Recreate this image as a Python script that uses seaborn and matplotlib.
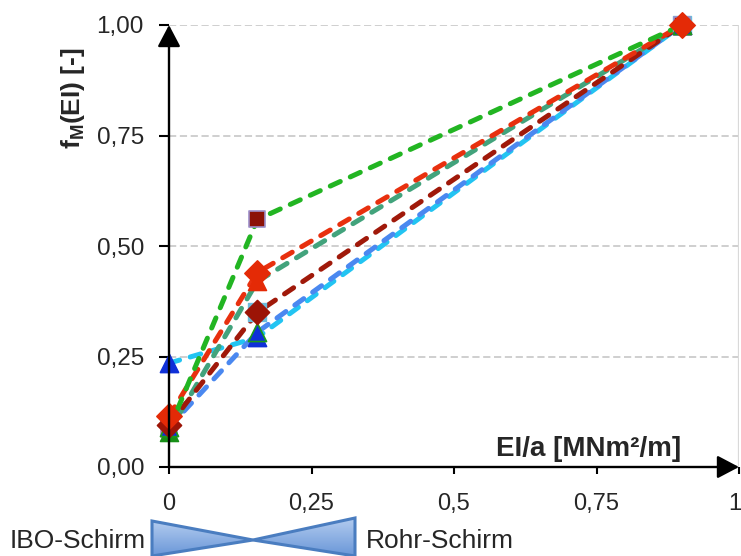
import matplotlib
matplotlib.use("Agg")
import numpy as np
import pandas as pd
import matplotlib.pyplot as plt
import seaborn as sns
from matplotlib.patches import Polygon
from matplotlib.colors import LinearSegmentedColormap
from matplotlib.transforms import ScaledTranslation

# Stiffness EI/a [MNm²/m] of the three support configurations
ei_a = [0.0, 0.155, 0.90]

# Reduction factor f_M(EI) for each configuration
fm_cyan = [0.235, 0.293, 1.00]
fm_blue = [0.090, 0.305, 1.00]
fm_teal = [0.080, 0.420, 1.00]
fm_darkred = [0.095, 0.350, 1.00]
fm_red = [0.115, 0.440, 1.00]
fm_green = [0.085, 0.560, 1.00]

x_ticks = [0, 0.25, 0.5, 0.75, 1.0]
x_tick_labels = ["0", "0,25", "0,5", "0,75", "1"]
y_ticks = [0, 0.25, 0.5, 0.75, 1.0]
y_tick_labels = ["0,00", "0,25", "0,50", "0,75", "1,00"]

sns.set_style("white")
plt.rcParams["font.family"] = ["Liberation Sans", "DejaVu Sans"]
plt.rcParams["mathtext.fontset"] = "custom"
plt.rcParams["mathtext.bf"] = "Liberation Sans:bold"
plt.rcParams["mathtext.rm"] = "Liberation Sans"

# line colour, marker, marker face, marker edge, marker area
series = [
    ("cyan", fm_cyan, "#22c4f2", "^", "#0f30d8", "#0f30d8", 170),
    ("blue", fm_blue, "#4a88f0", "^", "#0f30d8", "#1a9a1a", 170),
    ("teal", fm_teal, "#42a37c", "^", "#178f17", "#178f17", 170),
    ("darkred", fm_darkred, "#a0190a", "D", "#9c1406", "#9c1406", 150),
    ("red", fm_red, "#e8300e", "D", "#e42a06", "#e42a06", 165),
    ("green", fm_green, "#22b522", "s", "#8c1207", "#9d8fc9", 125),
]

fig = plt.figure(figsize=(7.41, 5.56), dpi=100)
ax = fig.add_axes([169 / 741, 1 - 467 / 556, 570 / 741, 442 / 556])
ax.set_xlim(0, 1)
ax.set_ylim(0, 1)

# light dashed grid and plot-area border
for yv in y_ticks[1:]:
    ax.axhline(yv, color="#cccccc", lw=1.3, ls=(0, (4, 2)), zorder=0)
ax.axvline(1.0, color="#d9d9d9", lw=1.6, zorder=0)

dash = (0, (2.2, 2.2))
for name, vals, lc, *_ in series:
    df = pd.DataFrame({"EI/a": ei_a, "f_M": vals})
    sns.lineplot(data=df, x="EI/a", y="f_M", color=lc, lw=3.6,
                 linestyle=dash, dash_capstyle="round", ax=ax, zorder=2)

lookup = {s[0]: s for s in series}
# light blue square beneath the dark red diamonds
sns.scatterplot(x=ei_a[1:], y=fm_darkred[1:], marker="s", s=150,
                color="#6cbcdc", edgecolor="#6cbcdc", ax=ax, zorder=3,
                clip_on=False)

z = 4
# green squares
_, vals, _, mk, fc, ec, sz = lookup["green"]
sns.scatterplot(x=ei_a, y=vals, marker=mk, s=sz, color=fc, edgecolor=ec,
                linewidth=1.2, ax=ax, zorder=z, clip_on=False)
z += 1
# teal triangles: green at the origin, red where the red diamonds sit
sns.scatterplot(x=ei_a[:1], y=fm_teal[:1], marker="^", s=170,
                color="#178f17", edgecolor="#178f17", ax=ax, zorder=z,
                clip_on=False)
sns.scatterplot(x=ei_a[1:], y=fm_teal[1:], marker="^", s=170,
                color="#e42a06", edgecolor="#e42a06", ax=ax, zorder=z,
                clip_on=False)
z += 1
for name in ["cyan", "blue", "darkred", "red"]:
    _, vals, lc, mk, fc, ec, sz = lookup[name]
    sns.scatterplot(x=ei_a, y=vals, marker=mk, s=sz, color=fc,
                    edgecolor=ec, linewidth=1.2, ax=ax, zorder=z,
                    clip_on=False)
    z += 1

# axes with arrow heads
for s in ax.spines.values():
    s.set_visible(False)
arrow = dict(arrowstyle="-|>,head_length=0.95,head_width=0.5", color="black",
             lw=1.7, mutation_scale=14, shrinkA=0, shrinkB=0)
ax.annotate("", xy=(1, 0), xytext=(0, 0), xycoords="axes fraction",
            arrowprops=arrow, annotation_clip=False, zorder=20)
ax.annotate("", xy=(0, 1), xytext=(0, 0), xycoords="axes fraction",
            arrowprops=arrow, annotation_clip=False, zorder=20)

ax.set_xticks(x_ticks)
ax.set_xticklabels(x_tick_labels)
ax.set_yticks(y_ticks)
ax.set_yticklabels(y_tick_labels)
ax.tick_params(axis="x", direction="out", length=5, width=1.5, pad=14,
               labelsize=17, color="black", bottom=True)
ax.tick_params(axis="y", direction="out", length=7, width=1.5, pad=11,
               labelsize=17.5, color="black", left=True)
ax.set_xlabel("")
ax.set_ylabel("")
# keep the last x label inside the canvas
last = ax.get_xticklabels()[-1]
last.set_transform(last.get_transform()
                   + ScaledTranslation(-4 / 100, 0, fig.dpi_scale_trans))

ax.text(0.898, 0.012, "EI/a [MNm²/m]", ha="right", va="bottom",
        fontsize=20, fontweight="bold", zorder=10)
fig.text(73 / 741, 1 - 98 / 556, r"$\mathbf{f}_\mathbf{M}$(EI) [-]",
         rotation=90, ha="center", va="center", fontsize=19,
         fontweight="bold")

# shield-type indicator below the axis
ov = fig.add_axes([0, 0, 1, 1], zorder=-1)
ov.set_axis_off()
ov.patch.set_alpha(0)
grad = LinearSegmentedColormap.from_list("g", ["#b2cbef", "#6a97d8"])
tri_left = [(152, 521), (152, 556), (253, 540)]
tri_right = [(253, 540), (355, 518), (355, 556)]
for pts in (tri_left, tri_right):
    poly = Polygon(pts, closed=True, facecolor="none", edgecolor="#4a7dc0",
                   lw=2.2, joinstyle="miter")
    ov.add_patch(poly)
    xs = [p[0] for p in pts]
    ys = [p[1] for p in pts]
    im = ov.imshow(np.linspace(0, 1, 64).reshape(-1, 1), cmap=grad,
                   extent=[min(xs), max(xs), max(ys), min(ys)],
                   aspect="auto", origin="upper", zorder=0)
    im.set_clip_path(poly)
ov.set_xlim(0, 741)
ov.set_ylim(556, 0)
ov.text(10, 541, "IBO-Schirm", ha="left", va="center", fontsize=19)
ov.text(366, 541, "Rohr-Schirm", ha="left", va="center", fontsize=19)

fig.savefig("out.png", dpi=100)
